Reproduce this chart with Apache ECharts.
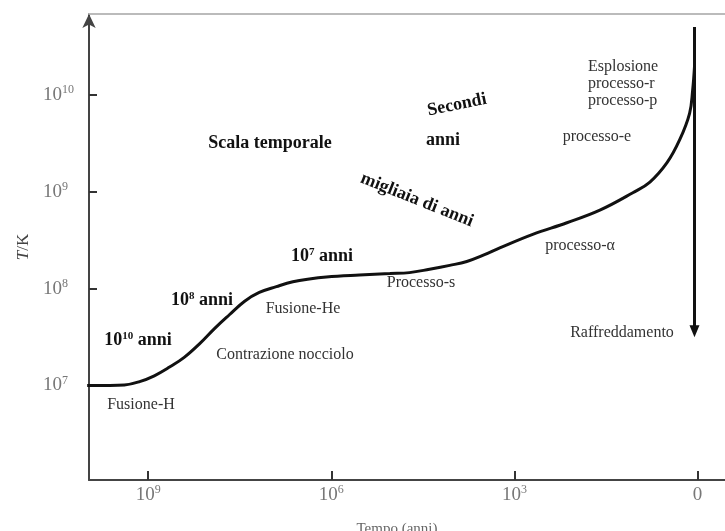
<!DOCTYPE html>
<html>
<head>
<meta charset="utf-8">
<script src="https://cdn.jsdelivr.net/npm/echarts@6/dist/echarts.min.js"></script>
<style>
html,body{margin:0;padding:0;background:#fff;}
#chart{width:725px;height:531px;}
</style>
</head>
<body>
<div id="chart"></div>
<script>
// log10 of years before the end (0 = end of star life)
const logTimeLeft = [10, 9.63, 9.39, 9.14, 8.90, 8.65, 8.41, 8.16, 7.91, 7.67, 7.42, 7.18, 6.90, 6.63, 6.36, 6.08, 5.54, 5.04, 4.72, 4.39, 4.06, 3.78, 3.49, 3.24, 2.70, 2.14, 1.60, 1.06, 0.78, 0.50, 0.29, 0.13, 0.08, 0.05];
// log10 of core temperature (K)
const logTemp = [7.00, 7.00, 7.005, 7.04, 7.10, 7.19, 7.29, 7.43, 7.59, 7.73, 7.87, 7.96, 8.02, 8.07, 8.10, 8.12, 8.14, 8.155, 8.165, 8.20, 8.24, 8.28, 8.35, 8.42, 8.56, 8.68, 8.81, 8.99, 9.10, 9.30, 9.54, 9.81, 10.05, 10.29];
// cooling arrow (Raffreddamento)
const coolingTime = [0.05, 0.05];
const coolingTemp = [10.70, 7.56];
// ticks
const xTickValues = [9, 6, 3, 0];
const yTickValues = [7, 8, 9, 10];

const serif = '"Liberation Serif", "DejaVu Serif", serif';
const supLabel = function (v) { return v === 0 ? '{b|0}' : '{b|10}{s|' + v + '}'; };
const tickRich = {
  b: {fontFamily: serif, fontSize: 19, color: '#777', lineHeight: 22},
  s: {fontFamily: serif, fontSize: 12, color: '#777', verticalAlign: 'top', lineHeight: 22, padding: [0, 0, 8, 0]}
};

const normal = {fontFamily: serif, fontSize: 16, fill: '#333'};
function txt(x, y, text, opts) {
  return Object.assign({
    type: 'text', x: x, y: y, silent: true,
    style: Object.assign({text: text, textAlign: 'center', textVerticalAlign: 'middle'}, normal, opts || {})
  });
}
const boldRich = {
  b: {fontFamily: serif, fontSize: 18, fontWeight: 'bold', fill: '#111', color: '#111'},
  s: {fontFamily: serif, fontSize: 11, fontWeight: 'bold', fill: '#111', color: '#111', verticalAlign: 'top', padding: [0, 0, 6, 0]}
};
function bold(x, y, text, rot) {
  const el = txt(x, y, text, {rich: boldRich, fontWeight: 'bold', fill: '#111'});
  if (rot) el.rotation = rot;
  return el;
}

const chart = echarts.init(document.getElementById('chart'), null, {renderer: 'canvas'});
chart.setOption({
  animation: false,
  backgroundColor: '#fff',
  grid: {left: 89, right: 0, top: 14, bottom: 51, containLabel: false, outerBoundsMode: 'none'},
  xAxis: [{
    type: 'value', inverse: true, min: -0.45, max: 9.97,
    name: 'Tempo (anni)', nameLocation: 'middle', nameGap: 42,
    nameTextStyle: {fontFamily: serif, fontSize: 15, color: '#666', padding: [0, 20, 0, 0]},
    axisLine: {show: true, onZero: false, lineStyle: {color: '#444', width: 2}},
    axisTick: {show: true, inside: true, length: 9, customValues: xTickValues, lineStyle: {color: '#333', width: 2}},
    axisLabel: {customValues: xTickValues, formatter: supLabel, rich: tickRich, margin: 4},
    splitLine: {show: false}
  }, {
    type: 'value', position: 'top', inverse: true, min: -0.45, max: 9.97,
    axisLine: {show: true, onZero: false, lineStyle: {color: '#bbb', width: 2}},
    axisTick: {show: false}, axisLabel: {show: false}, splitLine: {show: false}
  }],
  yAxis: {
    type: 'value', position: 'left', min: 6.024, max: 10.835,
    name: '{i|T}{n|/K}', nameLocation: 'middle', nameGap: 55, nameRotate: 90,
    nameTextStyle: {rich: {
      i: {fontFamily: serif, fontSize: 17, fontStyle: 'italic', color: '#444'},
      n: {fontFamily: serif, fontSize: 17, color: '#444'}
    }},
    axisLine: {show: true, onZero: false, lineStyle: {color: '#444', width: 2}, symbol: ['none', 'arrow'], symbolSize: [10, 14], symbolOffset: [0, 0]},
    axisTick: {show: true, inside: true, length: 8, customValues: yTickValues, lineStyle: {color: '#333', width: 2}},
    axisLabel: {customValues: yTickValues, formatter: supLabel, rich: tickRich, align: 'left', margin: 46},
    splitLine: {show: false}
  },
  series: [{
    type: 'line',
    data: logTimeLeft.map((t, i) => [t, logTemp[i]]),
    smooth: 0.4,
    symbol: 'none',
    lineStyle: {color: '#111', width: 3},
    z: 5
  }, {
    type: 'line',
    data: coolingTime.map((t, i) => [t, coolingTemp[i]]),
    symbol: 'none',
    showSymbol: false,
    itemStyle: {color: '#111'},
    lineStyle: {width: 0, opacity: 0},
    markLine: {
      silent: true, animation: false,
      symbol: ['none', 'triangle'], symbolSize: [10, 12], symbolRotate: 180,
      label: {show: false},
      itemStyle: {color: '#111'},
      lineStyle: {color: '#111', width: 3, type: 'solid'},
      data: [[{coord: [coolingTime[0], coolingTemp[0]]}, {coord: [coolingTime[1], coolingTemp[1]]}]]
    }
  }],
  graphic: [
    bold(270, 143, '{b|Scala temporale}'),
    bold(457, 105, '{b|Secondi}', 0.2),
    bold(443, 140, '{b|anni}'),
    bold(417, 200, '{b|migliaia di anni}', -0.38),
    bold(322, 256, '{b|10}{s|7}{b| anni}'),
    bold(202, 300, '{b|10}{s|8}{b| anni}'),
    bold(138, 340, '{b|10}{s|10}{b| anni}'),
    txt(141, 405, 'Fusione-H'),
    txt(285, 355, 'Contrazione nocciolo'),
    txt(303, 309, 'Fusione-He'),
    txt(421, 283, 'Processo-s'),
    txt(580, 246, 'processo-α'),
    txt(597, 137, 'processo-e'),
    txt(588, 67, 'Esplosione', {textAlign: 'left'}),
    txt(588, 84, 'processo-r', {textAlign: 'left'}),
    txt(588, 101, 'processo-p', {textAlign: 'left'}),
    txt(622, 333, 'Raffreddamento')
  ]
});
</script>
</body>
</html>
